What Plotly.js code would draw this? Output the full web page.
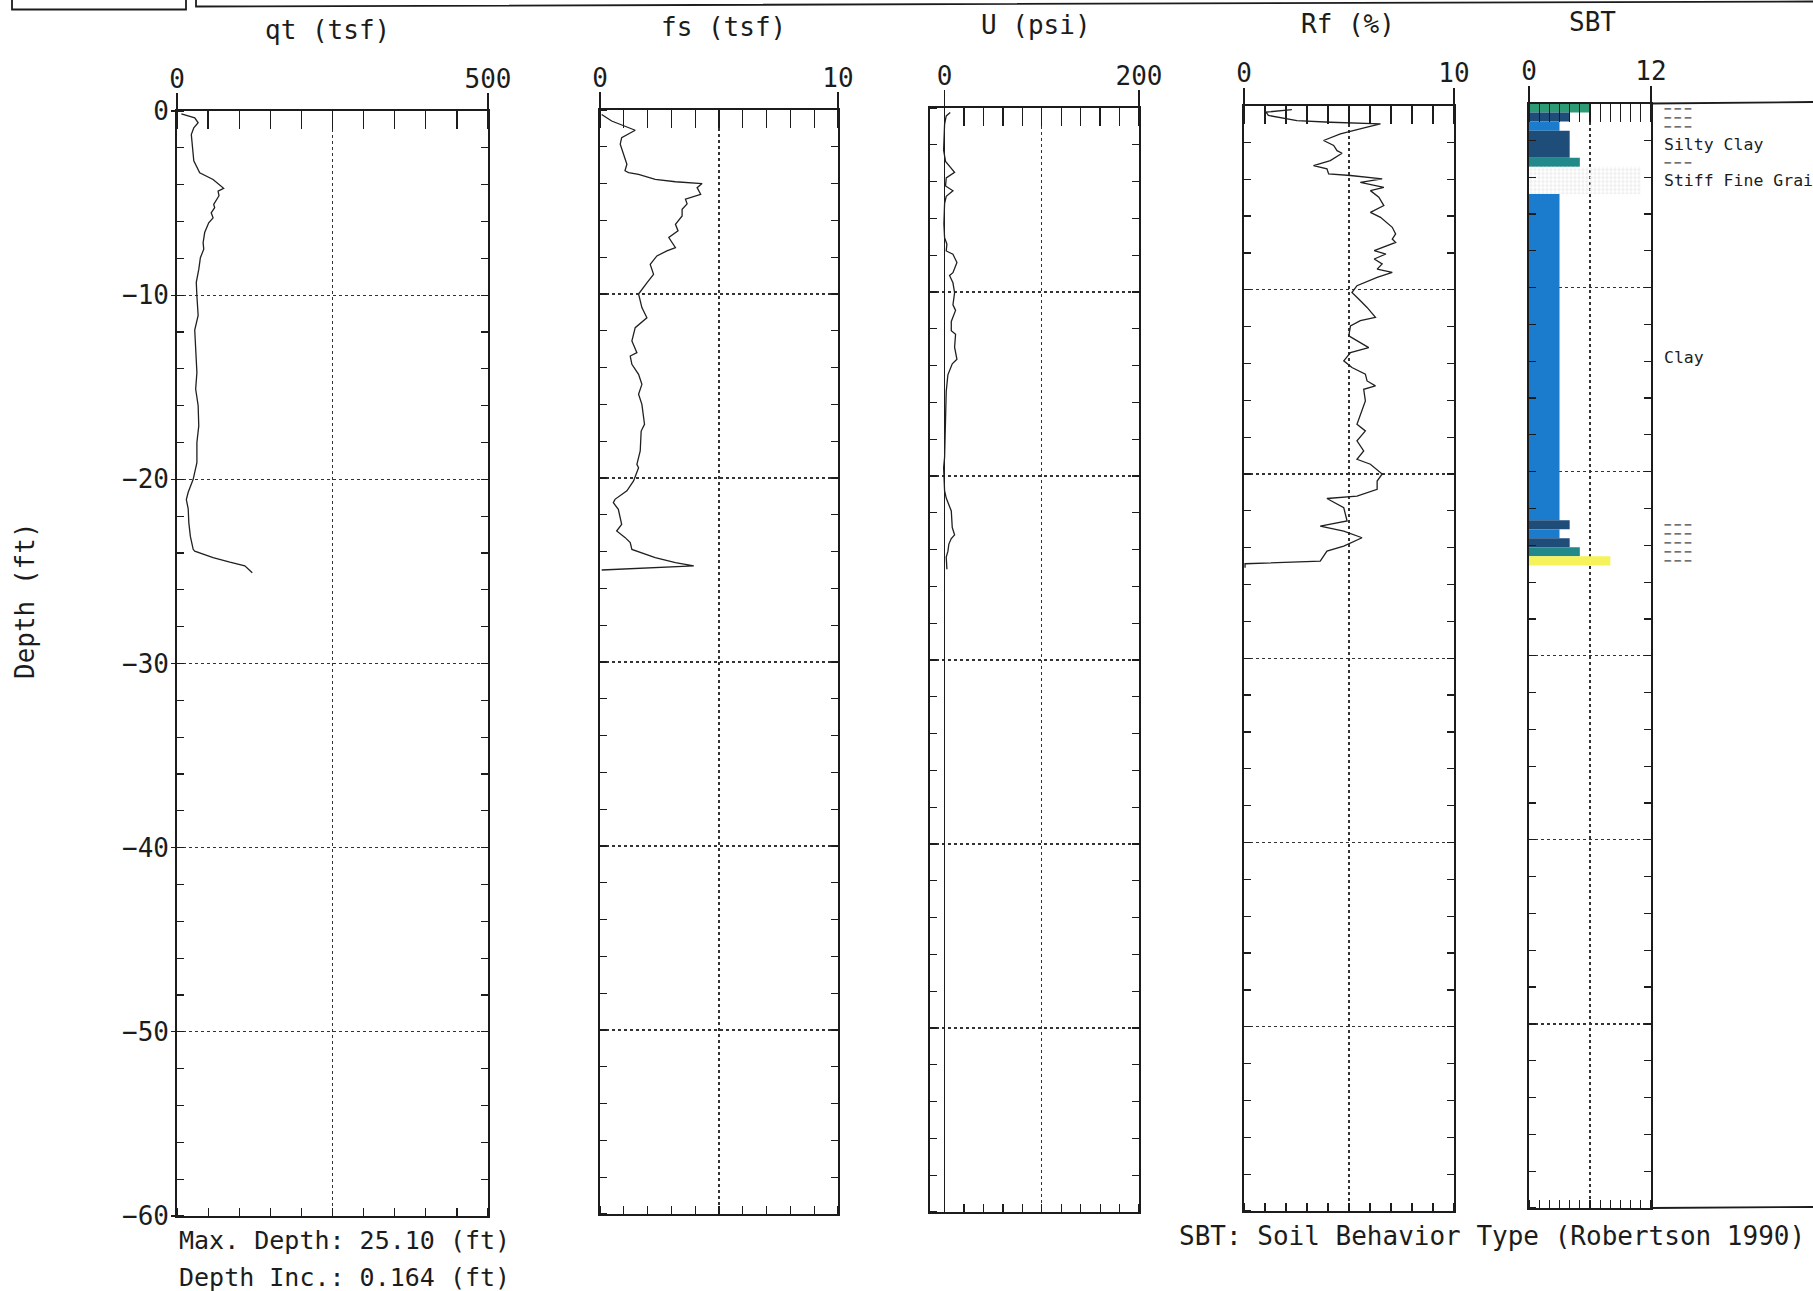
<!DOCTYPE html>
<html>
<head>
<meta charset="utf-8">
<script src="https://cdn.plot.ly/plotly-3.0.1.min.js"></script>
<style>html,body{margin:0;padding:0;background:#fff;overflow:hidden}</style>
</head>
<body>
<div id="chart" style="width:1813px;height:1291px"></div>
<script>
// ---------------- DATA (depth in ft, positive downward) ----------------
const qtDepth = [0.15, 0.37, 0.64, 0.91, 1.28, 2.1, 2.7, 3.36, 3.72, 4.2, 4.35, 4.6, 5.07, 5.25, 5.53, 5.8, 6.07, 6.6, 7.15, 7.5, 7.97, 8.6, 9.3, 10.05, 11.1, 11.9, 12.95, 14.2, 15.1, 16.0, 17.1, 18.0, 19.1, 20.0, 20.7, 21.1, 21.6, 22.35, 23.1, 23.8, 23.9, 24.25, 24.5, 24.7, 25.07];
const qtValue = [7, 28.5, 34, 27, 23, 26, 27, 36.5, 58, 75, 66, 67.5, 59, 60.6, 55, 58, 51, 44.5, 42, 43, 37.6, 35, 31, 32, 34, 28.5, 30, 32, 30, 34, 35, 32, 32, 26, 18, 15, 18, 19, 21.5, 26, 28.5, 58, 85, 109, 121];

const fsDepth = [0.24, 0.6, 1.1, 1.5, 1.86, 2.4, 2.95, 3.3, 3.4, 3.5, 3.77, 3.9, 4.0, 4.22, 4.58, 4.85, 5.1, 5.4, 5.76, 6.21, 6.57, 6.93, 7.48, 7.66, 7.93, 8.39, 8.93, 9.39, 10.0, 10.74, 11.29, 11.83, 12.55, 13.19, 13.37, 13.82, 14.37, 14.91, 15.45, 16.0, 17.08, 17.45, 18.53, 19.26, 19.44, 20.16, 20.7, 21.16, 21.34, 21.7, 22.52, 22.88, 23.24, 23.51, 23.88, 24.33, 24.6, 24.78, 25.0];
const fsValue = [0.07, 0.49, 1.48, 0.91, 0.85, 0.98, 1.13, 1.05, 1.2, 1.62, 2.32, 3.17, 4.29, 4.08, 4.23, 3.59, 3.66, 3.45, 3.45, 3.17, 3.28, 2.89, 3.17, 2.81, 2.39, 2.11, 2.25, 1.97, 1.62, 1.76, 1.97, 1.48, 1.34, 1.55, 1.27, 1.34, 1.62, 1.76, 1.62, 1.76, 1.87, 1.73, 1.69, 1.55, 1.62, 1.41, 1.13, 0.63, 0.56, 0.77, 0.91, 0.7, 1.06, 1.27, 1.34, 2.32, 3.17, 3.94, 0.07];

const uDepth = [0.25, 0.43, 0.89, 1.8, 2.3, 2.9, 3.5, 3.8, 4.24, 4.5, 4.8, 5.2, 6.3, 7.05, 7.4, 7.77, 7.95, 8.4, 8.95, 9.1, 9.5, 10.04, 10.7, 11.0, 11.6, 12.1, 12.3, 13.0, 13.66, 13.9, 14.5, 15.4, 17.2, 19.0, 19.55, 20.8, 21.2, 21.9, 22.8, 23.2, 23.4, 23.7, 24.1, 24.4, 25.07];
const uValue = [5.8, 1.7, 0, -1, -1, 1, 10.3, 1.7, 1, 8.6, 1.7, 0, -0.7, 0, 2.4, 1.7, 8.6, 12.7, 8.6, 5.1, 8.6, 10.3, 8.6, 11.3, 6.9, 6.9, 11.3, 10.3, 12.7, 7.9, 3.4, 1.7, 1, 0, -1, 0, 1.7, 6.9, 7.9, 10.3, 6.9, 4.4, 3.4, 1.7, 2.4];

const rfDepth = [0.22, 0.36, 0.54, 0.82, 0.91, 1.0, 1.18, 1.54, 1.9, 2.17, 2.45, 2.59, 2.99, 3.26, 3.44, 3.71, 3.8, 3.98, 4.17, 4.44, 4.62, 4.98, 5.43, 5.8, 6.07, 6.61, 6.97, 7.25, 7.43, 7.88, 8.06, 8.33, 8.6, 8.88, 9.06, 9.33, 9.78, 10.15, 10.5, 10.96, 11.5, 11.68, 11.96, 12.5, 13.14, 13.41, 13.86, 14.22, 14.58, 14.95, 15.22, 15.4, 16.03, 16.58, 17.3, 17.66, 18.2, 18.75, 19.2, 19.47, 20.0, 20.38, 20.83, 21.2, 21.33, 21.83, 22.55, 22.83, 23.1, 23.46, 23.91, 24.18, 24.73, 24.87, 25.09];
const rfValue = [2.28, 1.05, 1.16, 2.52, 4.11, 6.5, 5.86, 4.59, 3.79, 4.27, 4.43, 4.67, 4.11, 3.31, 3.95, 4.03, 5.07, 6.58, 5.54, 6.66, 6.02, 6.42, 6.66, 6.02, 6.5, 7.06, 7.22, 7.06, 7.22, 6.2, 6.76, 6.2, 6.58, 6.34, 7.06, 6.34, 5.38, 5.14, 5.46, 5.86, 6.26, 5.54, 5.07, 4.99, 5.94, 5.07, 4.75, 5.14, 5.78, 5.86, 6.26, 5.7, 5.78, 5.62, 5.38, 5.78, 5.38, 5.7, 5.38, 6.02, 6.58, 6.34, 6.34, 5.38, 3.95, 4.75, 4.91, 3.63, 4.75, 5.62, 4.75, 3.95, 3.63, 0.05, 0.05];

const sbtTop    = [0, 0.49, 0.98, 1.48, 2.95, 3.44, 4.92, 22.64, 23.13, 23.62, 24.11, 24.6];
const sbtBottom = [0.49, 0.98, 1.48, 2.95, 3.44, 4.92, 22.64, 23.13, 23.62, 24.11, 24.6, 25.1];
const sbtZone   = [6, 4, 3, 4, 5, 11, 3, 4, 3, 4, 5, 8];
const sbtLabel  = ['— — —', '— — —', '— — —', 'Silty Clay', '— — —', 'Stiff Fine Grai', 'Clay', '— — —', '— — —', '— — —', '— — —', '— — —'];

const panelTitles = ['qt (tsf)', 'fs (tsf)', 'U (psi)', 'Rf (%)', 'SBT'];
const panelMax = [500, 10, 200, 10, 12];
const depthTicks = [0, -10, -20, -30, -40, -50, -60];
const footLeft = ['Max. Depth: 25.10 (ft)', 'Depth Inc.: 0.164 (ft)'];
const footRight = 'SBT: Soil Behavior Type (Robertson 1990)';

// ---------------- LAYOUT / STYLE ----------------
const W = 1813, H = 1291;
const FONT = 'DejaVu Sans Mono, monospace';
const INK = '#1c1c1c';
const px = v => v / W;
const py = v => 1 - v / H;

const geom = [
  {tx: 327,  ty: 30, x0: 177,  x1: 488,  y0: 111,   y1: 1216, lo: 0,   step: 50},
  {tx: 723,  ty: 27, x0: 600,  x1: 838,  y0: 110,   y1: 1214, lo: 0,   step: 1},
  {tx: 1036, ty: 25, x0: 930,  x1: 1139, y0: 108,   y1: 1212, lo: -15, step: 20},
  {tx: 1348, ty: 24, x0: 1244, x1: 1454, y0: 105.5, y1: 1211, lo: 0,   step: 1},
  {tx: 1592, ty: 22, x0: 1529, x1: 1651, y0: 103.5, y1: 1208, lo: 0,   step: 1}
];

const series = [[qtDepth, qtValue], [fsDepth, fsValue], [uDepth, uValue], [rfDepth, rfValue], null];
const zoneColor = {3: '#1b7bcc', 4: '#1f4d7a', 5: '#21898a', 6: '#2d9a76', 8: '#f6f25a', 11: '#eeeeee'};

const id = (l, n) => n === 1 ? l : l + n;
const key = (l, n) => n === 1 ? l + 'axis' : l + 'axis' + n;

const layout = {
  width: W, height: H, autosize: false,
  margin: {l: 0, r: 0, t: 0, b: 0},
  paper_bgcolor: '#ffffff', plot_bgcolor: 'rgba(0,0,0,0)',
  showlegend: false,
  font: {family: FONT, color: INK, size: 26},
  annotations: [], shapes: []
};
const traces = [];

geom.forEach((g, i) => {
  const mx = 2 * i + 1, ox = 2 * i + 2, my = 2 * i + 1, oy = 2 * i + 2;
  const max = panelMax[i];
  const range = [g.lo, max];
  const tickfont = {family: FONT, size: 26, color: INK};
  layout[key('x', mx)] = {
    domain: [px(g.x0), px(g.x1)], range: range, anchor: id('y', my), side: 'top',
    tickmode: 'array', tickvals: [0, max], ticktext: ['0', String(max)],
    ticks: 'outside', ticklen: 16, tickwidth: 1.4, tickcolor: INK, ticklabelstandoff: -5,
    tickfont: tickfont, showline: true, linecolor: INK, linewidth: 1.8,
    showgrid: false, zeroline: i === 2, zerolinecolor: INK, zerolinewidth: 1.4,
    minor: {tickmode: 'linear', tick0: 0, dtick: g.step, ticks: 'inside', ticklen: 18, tickwidth: 1.3, tickcolor: INK, showgrid: false},
    fixedrange: true
  };
  layout[key('x', ox)] = {
    overlaying: id('x', mx), anchor: id('y', my), side: 'bottom', range: range,
    tickmode: 'array', tickvals: [max / 2], showticklabels: false, ticks: '',
    showline: true, linecolor: INK, linewidth: 1.8,
    showgrid: true, gridcolor: '#333', griddash: 'dot', gridwidth: 1.3, zeroline: false,
    minor: {tickmode: 'linear', tick0: 0, dtick: g.step, ticks: 'inside', ticklen: 8, tickwidth: 1.2, tickcolor: INK, showgrid: false},
    fixedrange: true
  };
  layout[key('y', my)] = {
    domain: [py(g.y1), py(g.y0)], range: [-60, 0], anchor: id('x', mx), side: 'left',
    tickmode: 'array', tickvals: depthTicks, showticklabels: i === 0,
    ticks: i === 0 ? 'outside' : '', ticklen: 4, tickwidth: 1.3, tickcolor: INK, ticklabelstandoff: -3,
    tickfont: tickfont, showline: true, linecolor: INK, linewidth: 1.8,
    showgrid: true, gridcolor: '#333', griddash: 'dot', gridwidth: 1.3, zeroline: false,
    minor: {tickmode: 'linear', tick0: 0, dtick: 2, ticks: 'inside', ticklen: 7, tickwidth: 1.2, tickcolor: INK, showgrid: false},
    fixedrange: true
  };
  layout[key('y', oy)] = {
    overlaying: id('y', my), anchor: id('x', mx), side: 'right', range: [-60, 0],
    tickmode: 'array', tickvals: depthTicks, showticklabels: false, ticks: 'inside', ticklen: 7, tickwidth: 1.2, tickcolor: INK,
    showline: true, linecolor: INK, linewidth: 1.8, showgrid: false, zeroline: false,
    minor: {tickmode: 'linear', tick0: 0, dtick: 2, ticks: 'inside', ticklen: 7, tickwidth: 1.2, tickcolor: INK, showgrid: false},
    fixedrange: true
  };
  // empty helpers so overlay subplots exist
  traces.push({type: 'scatter', x: [], y: [], xaxis: id('x', ox), yaxis: id('y', my), hoverinfo: 'skip'});
  traces.push({type: 'scatter', x: [], y: [], xaxis: id('x', mx), yaxis: id('y', oy), hoverinfo: 'skip'});

  if (series[i]) {
    const [d, v] = series[i];
    traces.push({type: 'scatter', mode: 'lines', x: v, y: d.map(z => -z),
      xaxis: id('x', mx), yaxis: id('y', my), line: {color: '#202020', width: 1.3}, hoverinfo: 'skip', cliponaxis: true});
  }
  layout.annotations.push({text: panelTitles[i], xref: 'paper', yref: 'paper', x: px(g.tx), y: py(g.ty),
    xanchor: 'center', yanchor: 'middle', showarrow: false, font: {family: FONT, size: 26, color: INK}});
});

// SBT bars
traces.push({
  type: 'bar', orientation: 'h', base: 0,
  x: sbtZone, y: sbtTop.map((t, i) => -(t + sbtBottom[i]) / 2), width: sbtTop.map((t, i) => sbtBottom[i] - t),
  xaxis: 'x9', yaxis: 'y9', hoverinfo: 'skip',
  marker: {color: sbtZone.map(z => zoneColor[z]), line: {width: 0},
    pattern: {shape: sbtZone.map(z => z === 11 ? '.' : ''), fgcolor: '#7a7a7a', bgcolor: '#f1f1f1', size: 4, solidity: 0.5}}
});
sbtLabel.forEach((lab, i) => {
  const dash = lab.indexOf('—') === 0;
  layout.annotations.push({text: lab, xref: 'paper', yref: 'y9', x: px(1662), y: -(sbtTop[i] + sbtBottom[i]) / 2,
    xanchor: 'left', yanchor: 'middle', showarrow: false,
    font: dash ? {family: 'DejaVu Sans, sans-serif', size: 7.5, color: '#000', weight: 'bold'} : {family: FONT, size: 16.5, color: INK}});
});

// Depth title and footers
layout.annotations.push({text: 'Depth (ft)', xref: 'paper', yref: 'paper', x: px(25), y: py(601), textangle: -90,
  xanchor: 'center', yanchor: 'middle', showarrow: false, font: {family: FONT, size: 26, color: INK}});
footLeft.forEach((t, i) => layout.annotations.push({text: t, xref: 'paper', yref: 'paper', x: px(177), y: py(1240 + 37 * i),
  xanchor: 'left', yanchor: 'middle', showarrow: false, font: {family: FONT, size: 25, color: INK}}));
layout.annotations.push({text: footRight, xref: 'paper', yref: 'paper', x: px(1177), y: py(1236),
  xanchor: 'left', yanchor: 'middle', showarrow: false, font: {family: FONT, size: 26, color: INK}});

// header boxes and SBT label box edges
const ln = {color: INK, width: 1.8};
layout.shapes.push({type: 'path', xref: 'paper', yref: 'paper', line: ln,
  path: `M ${px(12)} ${py(-20)} L ${px(12)} ${py(9.5)} L ${px(186)} ${py(9.5)} L ${px(186)} ${py(-20)}`});
layout.shapes.push({type: 'path', xref: 'paper', yref: 'paper', line: ln,
  path: `M ${px(196)} ${py(-20)} L ${px(196)} ${py(6.5)} L ${px(1813)} ${py(1.5)}`});
layout.shapes.push({type: 'line', xref: 'paper', yref: 'paper', x0: px(1651), x1: 1, y0: py(103.5), y1: py(102), line: ln});
layout.shapes.push({type: 'line', xref: 'paper', yref: 'paper', x0: px(1651), x1: 1, y0: py(1208), y1: py(1207), line: ln});

Plotly.newPlot('chart', traces, layout, {staticPlot: true, displayModeBar: false});
</script>
</body>
</html>
